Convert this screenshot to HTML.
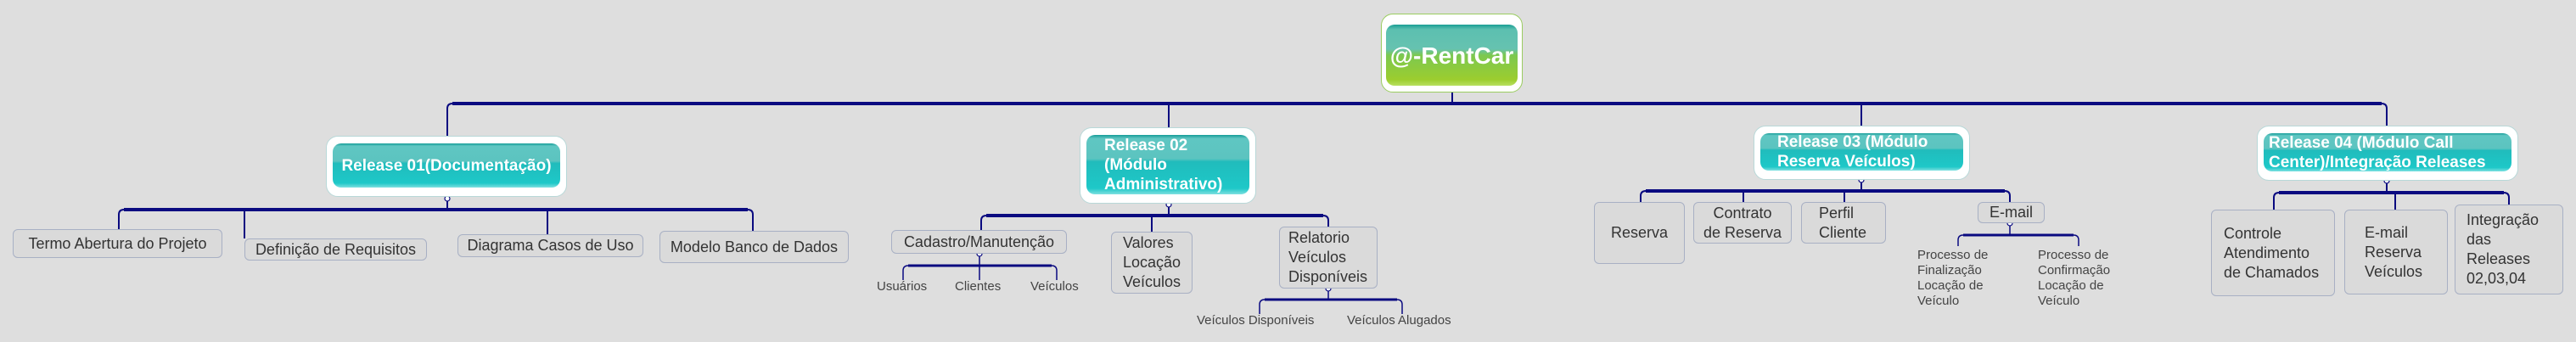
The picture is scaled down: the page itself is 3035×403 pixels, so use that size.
<!DOCTYPE html>
<html><head><meta charset="utf-8"><style>
body{margin:0;width:3035px;height:403px;background:#dedede;position:relative;overflow:hidden;font-family:"Liberation Sans",sans-serif}
.rel{position:absolute;background:#fff;border:1px solid #b8d8d8;border-radius:14px;box-sizing:border-box}
.rel .in{position:absolute;left:7px;right:7px;top:8px;bottom:10px;border-radius:10px;background:linear-gradient(#159c98 0,#5fc6c2 6%,#5cc4c0 40%,#20bcbc 45%,#1ec8c8 90%,#7ee0e0 100%);color:#fff;font-weight:bold;font-size:19px;line-height:23px;display:flex;align-items:center;box-sizing:border-box;padding-left:6px;white-space:nowrap}
.root .in{background:linear-gradient(#1a9e94 0,#5cc0b0 8%,#66c2b0 40%,#7cc850 50%,#9ccd2e 90%,#b8e060 100%);justify-content:center;padding:0;font-size:28px}
.b{position:absolute;border:1px solid #a8b0c4;border-radius:6px;box-sizing:border-box;background:#dadada;color:#333;font-size:18px;line-height:23px;display:flex;align-items:center;justify-content:center;text-align:left}
.s{position:absolute;color:#444;font-size:15px;line-height:18px;white-space:nowrap}
</style></head><body>
<svg width="3035" height="403" style="position:absolute;left:0;top:0" fill="none" stroke="#0a0a80">
<path d="M527 160 V128 Q527 122 533 122 H2806 Q2812 122 2812 128 V148" stroke-width="2"/>
<path d="M533 122 H2806" stroke-width="4"/>
<path d="M1711 108 V122 M1377 122 V150 M2193 122 V148" stroke-width="2"/>
<path d="M140 270 V253 Q140 247 146 247 H881 Q887 247 887 253 V272 M288 247 V281 M645 247 V276 M527 232 V247" stroke-width="2"/>
<path d="M146 247 H881" stroke-width="4"/>
<path d="M1156 271 V260 Q1156 254 1162 254 H1559 Q1565 254 1565 260 V267 M1357 254 V273 M1377 240 V254" stroke-width="2"/>
<path d="M1162 254 H1559" stroke-width="4"/>
<path d="M1064 330 V319 Q1064 313 1070 313 H1239 Q1245 313 1245 319 V330 M1154 299 V330" stroke-width="1.5"/>
<path d="M1070 313 H1239" stroke-width="3"/>
<path d="M1484 370 V359 Q1484 353 1490 353 H1646 Q1652 353 1652 359 V370 M1565 340 V353" stroke-width="1.5"/>
<path d="M1490 353 H1646" stroke-width="3"/>
<path d="M1933 238 V231 Q1933 225 1939 225 H2362 Q2368 225 2368 231 V238 M2054 225 V238 M2173 225 V238 M2193 212 V225" stroke-width="2"/>
<path d="M1939 225 H2362" stroke-width="4"/>
<path d="M2307 290 V283 Q2307 277 2313 277 H2443 Q2449 277 2449 283 V290 M2368 263 V277" stroke-width="1.5"/>
<path d="M2313 277 H2443" stroke-width="3"/>
<path d="M2679 247 V233 Q2679 227 2685 227 H2950 Q2956 227 2956 233 V241 M2822 227 V247 M2812 213 V227" stroke-width="2"/>
<path d="M2685 227 H2950" stroke-width="4"/>
<g fill="#fff" stroke-width="1.2">
<circle cx="527" cy="234" r="3"/><circle cx="1377" cy="241" r="3"/><circle cx="2193" cy="212" r="3"/><circle cx="2812" cy="213" r="3"/>
<circle cx="1154" cy="299" r="3"/><circle cx="1565" cy="340" r="3"/><circle cx="2368" cy="263" r="3"/>
</g>
</svg>

<div class="rel root" style="left:1627px;top:16px;width:167px;height:93px;border-color:#9acd60"><div class="in" style="left:5px;right:5px;top:12px;bottom:7px">@-RentCar</div></div>
<div class="rel" style="left:384px;top:160px;width:284px;height:72px"><div class="in" style="justify-content:center;padding:0">Release 01(Documentação)</div></div>
<div class="rel" style="left:1272px;top:150px;width:208px;height:90px"><div class="in" style="padding-left:21px">Release 02<br>(Módulo<br>Administrativo)</div></div>
<div class="rel" style="left:2066px;top:148px;width:255px;height:64px"><div class="in" style="padding-left:20px">Release 03 (Módulo<br>Reserva Veículos)</div></div>
<div class="rel" style="left:2659px;top:148px;width:308px;height:65px"><div class="in">Release 04 (Módulo Call<br>Center)/Integração Releases</div></div>

<div class="b" style="left:15px;top:270px;width:247px;height:34px">Termo Abertura do Projeto</div>
<div class="b" style="left:288px;top:281px;width:215px;height:26px">Definição de Requisitos</div>
<div class="b" style="left:539px;top:276px;width:219px;height:27px">Diagrama Casos de Uso</div>
<div class="b" style="left:777px;top:272px;width:223px;height:38px">Modelo Banco de Dados</div>

<div class="b" style="left:1050px;top:271px;width:207px;height:28px">Cadastro/Manutenção</div>
<div class="b" style="left:1309px;top:273px;width:96px;height:73px">Valores<br>Locação<br>Veículos</div>
<div class="b" style="left:1507px;top:267px;width:116px;height:73px;justify-content:flex-start;padding-left:10px">Relatorio<br>Veículos<br>Disponíveis</div>
<div class="s" style="left:1033px;top:329px">Usuários</div>
<div class="s" style="left:1125px;top:329px">Clientes</div>
<div class="s" style="left:1214px;top:329px">Veículos</div>
<div class="s" style="left:1410px;top:369px">Veículos Disponíveis</div>
<div class="s" style="left:1587px;top:369px">Veículos Alugados</div>

<div class="b" style="left:1878px;top:238px;width:107px;height:73px">Reserva</div>
<div class="b" style="left:1995px;top:238px;width:116px;height:49px;text-align:center">Contrato<br>de Reserva</div>
<div class="b" style="left:2122px;top:238px;width:100px;height:49px;justify-content:flex-start;padding-left:20px">Perfil<br>Cliente</div>
<div class="b" style="left:2330px;top:238px;width:79px;height:25px">E-mail</div>
<div class="s" style="left:2259px;top:292px">Processo de<br>Finalização<br>Locação de<br>Veículo</div>
<div class="s" style="left:2401px;top:292px">Processo de<br>Confirmação<br>Locação de<br>Veículo</div>

<div class="b" style="left:2605px;top:247px;width:146px;height:102px;justify-content:flex-start;padding-left:14px">Controle<br>Atendimento<br>de Chamados</div>
<div class="b" style="left:2762px;top:247px;width:122px;height:100px;justify-content:flex-start;padding-left:23px">E-mail<br>Reserva<br>Veículos</div>
<div class="b" style="left:2892px;top:241px;width:128px;height:106px;justify-content:flex-start;padding-left:13px">Integração<br>das<br>Releases<br>02,03,04</div>
</body></html>
